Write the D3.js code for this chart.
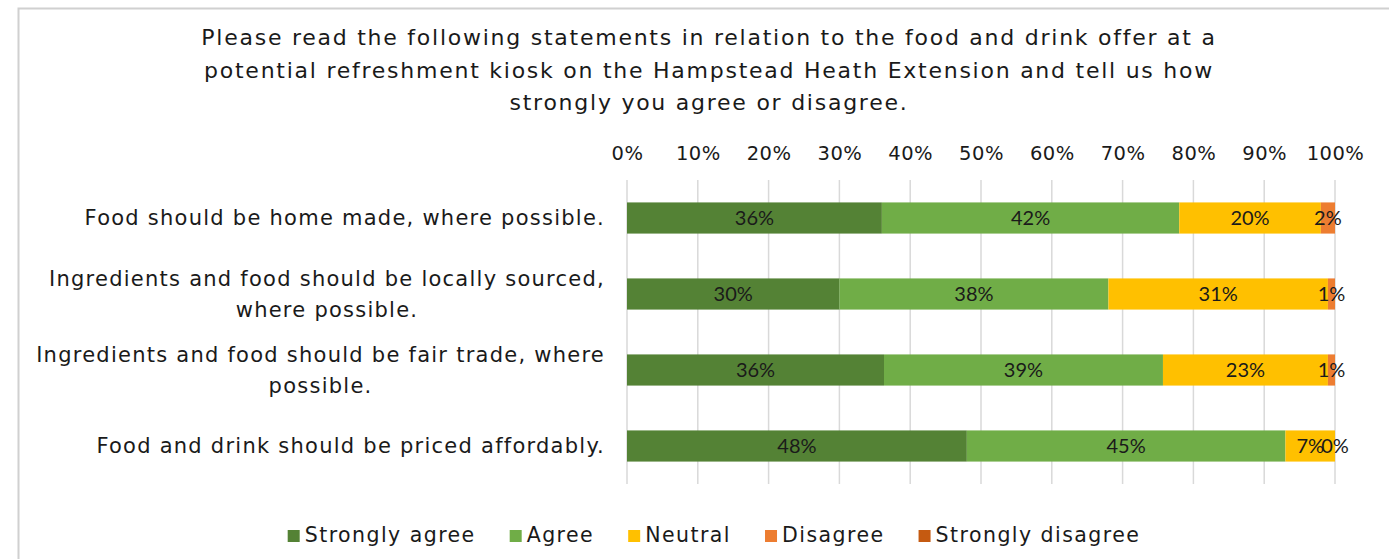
<!DOCTYPE html>
<html><head><meta charset="utf-8">
<script src="https://cdn.jsdelivr.net/npm/d3@7"></script>
<style>body{margin:0;background:#fff;}svg{display:block;}</style>
</head><body>
<svg id="c" width="1389" height="559"></svg>
<script>
const titleLines = [
  "Please read the following statements in relation to the food and drink offer at a",
  "potential refreshment kiosk on the Hampstead Heath Extension and tell us how",
  "strongly you agree or disagree."
];
const categories = [
  ["Food should be home made, where possible."],
  ["Ingredients and food should be locally sourced,", "where possible."],
  ["Ingredients and food should be fair trade, where", "possible."],
  ["Food and drink should be priced affordably."]
];
const seriesNames = ["Strongly agree", "Agree", "Neutral", "Disagree", "Strongly disagree"];
const seriesColors = ["#548235", "#70AD47", "#FFC000", "#ED7D31", "#C55A11"];
const stronglyAgree = [36, 30, 36.3, 48];
const agree = [42, 38, 39.4, 45];
const neutral = [20, 31, 23.3, 7];
const disagree = [2, 1, 1, 0];
const stronglyDisagree = [0, 0, 0, 0];
const tickValues = [0, 10, 20, 30, 40, 50, 60, 70, 80, 90, 100];

const font = "'DejaVu Sans', sans-serif";
const labelFont = "Lato, 'Liberation Sans', sans-serif";
const svg = d3.select("#c");

svg.append("rect").attr("x", 18.5).attr("y", 8.5).attr("width", 1400).attr("height", 600)
  .attr("fill", "#fff").attr("stroke", "#d0d0d0").attr("stroke-width", 2);

const x = d3.scaleLinear().domain([0, 100]).range([627, 1335]);
const y = d3.scaleBand().domain(d3.range(categories.length)).range([180, 484])
  .paddingInner(0.59).paddingOuter(0.295);

// title
svg.append("g").selectAll("text").data(titleLines).join("text")
  .attr("x", 709).attr("y", (d, i) => 45 + i * 32.5)
  .attr("text-anchor", "middle").attr("font-family", font).attr("font-size", 22)
  .attr("letter-spacing", 1.75)
  .attr("fill", "#1a1a1a").text(d => d);

// gridlines
svg.append("g").selectAll("line").data(tickValues).join("line")
  .attr("x1", d => x(d)).attr("x2", d => x(d)).attr("y1", 180).attr("y2", 484)
  .attr("stroke", "#d9d9d9").attr("stroke-width", 1.5);

// top axis labels
const axis = d3.axisTop(x).tickValues(tickValues).tickFormat(d => d + "%").tickSize(0).tickPadding(0);
const ag = svg.append("g").attr("transform", "translate(0,160)").call(axis);
ag.select(".domain").remove();
ag.selectAll("text").attr("font-family", font).attr("font-size", 19.5).attr("fill", "#1a1a1a")
  .attr("letter-spacing", 0.5);

// stacked bars
const rows = categories.map((c, i) => [stronglyAgree[i], agree[i], neutral[i], disagree[i], stronglyDisagree[i]]);
const table = rows.map((r, i) => { const o = {i}; seriesNames.forEach((s, k) => o[s] = r[k]); return o; });
const stack = d3.stack().keys(seriesNames);
const stacked = stack(table);

const gs = svg.append("g").selectAll("g").data(stacked).join("g")
  .attr("fill", (d, k) => seriesColors[k]);
gs.selectAll("rect").data(d => d).join("rect")
  .attr("x", d => x(d[0])).attr("width", d => x(d[1]) - x(d[0]))
  .attr("y", d => y(d.data.i)).attr("height", y.bandwidth());

// data labels (not for Strongly disagree)
stacked.slice(0, 4).forEach((ser, k) => {
  svg.append("g").selectAll("text").data(ser).join("text")
    .attr("x", d => x((d[0] + d[1]) / 2))
    .attr("y", d => y(d.data.i) + y.bandwidth() / 2)
    .attr("dy", "0.36em").attr("text-anchor", "middle")
    .attr("font-family", labelFont).attr("font-size", 20).attr("fill", "#1a1a1a")
    .text(d => Math.round(d[1] - d[0]) + "%");
});

// category labels
const cg = svg.append("g").selectAll("text").data(categories).join("text")
  .attr("font-family", font).attr("font-size", 21).attr("letter-spacing", 1.25).attr("fill", "#1a1a1a");
cg.each(function(lines, i) {
  const cy = y(i) + y.bandwidth() / 2;
  const lh = 31;
  const ts = d3.select(this).selectAll("tspan").data(lines).join("tspan")
    .attr("x", 605).attr("text-anchor", "end")
    .attr("y", (l, j) => cy + (j - (lines.length - 1) / 2) * lh)
    .attr("dy", "0.35em").text(l => l);
  if (lines.length > 1) {
    const first = ts.nodes()[0];
    const w = first.getComputedTextLength();
    ts.filter((l, j) => j > 0).attr("x", 605 - w / 2).attr("text-anchor", "middle");
  }
});

// legend
const lg = svg.append("g");
const items = lg.selectAll("g").data(seriesNames).join("g");
items.append("rect").attr("width", 12).attr("height", 12).attr("y", -5)
  .attr("fill", (d, k) => seriesColors[k]);
items.append("text").attr("x", 17).attr("dy", "0.35em").attr("font-family", font)
  .attr("font-size", 20.5).attr("letter-spacing", 1.45).attr("fill", "#1a1a1a").text(d => d);
let pos = 0; const gap = 34; const offs = [];
items.each(function() { offs.push(pos); pos += this.getBBox().width + gap; });
const total = pos - gap;
const startX = 714 - total / 2;
items.attr("transform", (d, k) => `translate(${startX + offs[k]},535)`);
</script>
</body></html>
